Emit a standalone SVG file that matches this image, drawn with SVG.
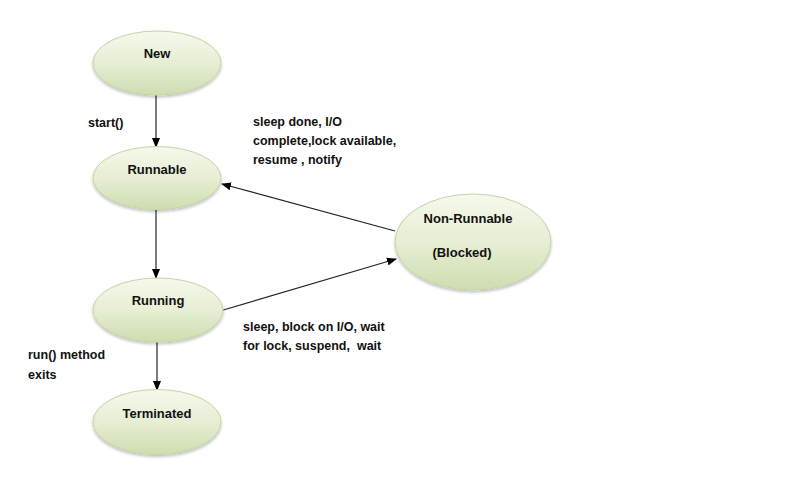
<svg xmlns="http://www.w3.org/2000/svg" width="786" height="489" viewBox="0 0 786 489">
<defs>
<linearGradient id="g" x1="0" y1="0" x2="0" y2="1">
<stop offset="0" stop-color="#f5f9ec"/>
<stop offset="0.5" stop-color="#e6eed4"/>
<stop offset="1" stop-color="#cfddb0"/>
</linearGradient>
<filter id="sh" x="-20%" y="-20%" width="140%" height="150%">
<feGaussianBlur in="SourceAlpha" stdDeviation="1.5"/>
<feOffset dy="2" result="b"/>
<feComponentTransfer><feFuncA type="linear" slope="0.25"/></feComponentTransfer>
<feMerge><feMergeNode/><feMergeNode in="SourceGraphic"/></feMerge>
</filter>
<marker id="ah" markerWidth="10" markerHeight="8" refX="9" refY="4" orient="auto" markerUnits="userSpaceOnUse">
<path d="M0,0 L10,4 L0,8 Z" fill="#000"/>
</marker>
</defs>
<style>
.n ellipse{fill:url(#g);stroke:#c5d4a4;stroke-width:1;filter:url(#sh)}
.t{font-family:"Liberation Sans",Arial,sans-serif;font-weight:bold;font-size:12.5px;fill:#111}
.n .t{font-size:13px}
.c{text-anchor:middle}
.e line{stroke:#222;stroke-width:1.2;marker-end:url(#ah)}
</style>
<rect width="786" height="489" fill="#fff"/>
<g class="e" id="connectors">
<line x1="156" y1="95" x2="156" y2="147"/>
<line x1="156" y1="210" x2="156" y2="278"/>
<line x1="157" y1="342" x2="157" y2="390"/>
<line x1="395" y1="231" x2="222" y2="184"/>
<line x1="220" y1="311" x2="396" y2="259"/>
</g>
<g id="new" class="n"><ellipse cx="157" cy="63" rx="64" ry="32"/><text class="t c" x="157" y="58">New</text></g>
<g id="runnable" class="n"><ellipse cx="157" cy="178" rx="64" ry="31.5"/><text class="t c" x="157" y="174">Runnable</text></g>
<g id="running" class="n"><ellipse cx="158" cy="310" rx="65" ry="32"/><text class="t c" x="158" y="305">Running</text></g>
<g id="terminated" class="n"><ellipse cx="157" cy="422" rx="64" ry="32.5"/><text class="t c" x="157" y="418">Terminated</text></g>
<g id="nonrunnable" class="n"><ellipse cx="473" cy="242" rx="78" ry="48"/><text class="t c" x="468" y="223">Non-Runnable</text><text class="t c" x="462" y="257">(Blocked)</text></g>
<g id="labels">
<text class="t" x="88" y="127">start()</text>
<text class="t" x="253" y="126">sleep done, I/O</text>
<text class="t" x="253" y="145">complete,lock available,</text>
<text class="t" x="253" y="164">resume , notify</text>
<text class="t" x="243" y="331">sleep, block on I/O, wait</text>
<text class="t" x="243" y="350" xml:space="preserve">for lock, suspend,  wait</text>
<text class="t" x="28" y="359">run() method</text>
<text class="t" x="28" y="379">exits</text>
</g>
</svg>
